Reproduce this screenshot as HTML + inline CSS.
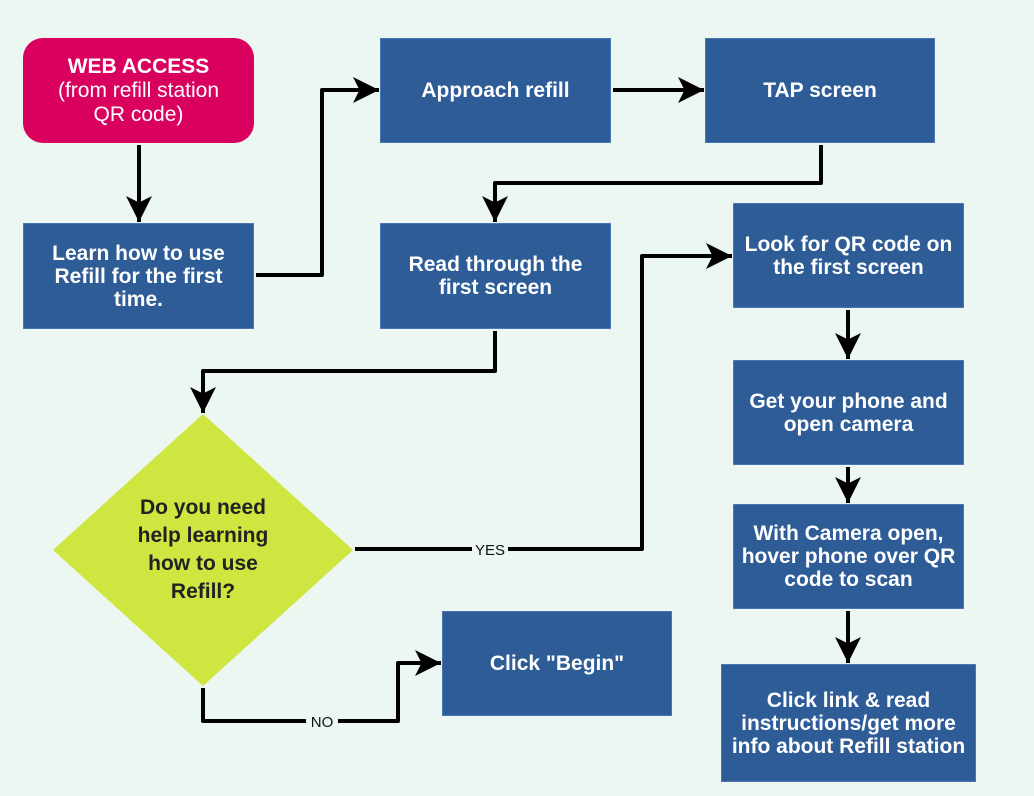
<!DOCTYPE html>
<html><head><meta charset="utf-8"><style>
body{margin:0;width:1034px;height:796px;background:#ebf7f0;position:relative;overflow:hidden;font-family:"Liberation Sans",sans-serif}
.b{position:absolute;background:#2e5c96;color:#fff;font-weight:bold;font-size:21px;line-height:23px;display:flex;align-items:center;justify-content:center;text-align:center;box-sizing:border-box;border:1px solid #4a78b0}
svg{position:absolute;left:0;top:0}
</style></head><body>
<svg width="1034" height="796">
<defs>
<marker id="m" viewBox="0 0 10 10" refX="10" refY="5" markerWidth="26" markerHeight="26" markerUnits="userSpaceOnUse" orient="auto"><path d="M0,0L10,5L0,10L2.5,5z" fill="#000"/></marker></defs>
<polygon points="203,414 353,550 203,686 53,550" fill="#cfe540"/>
<g fill="none" stroke="#000" stroke-width="4" stroke-linejoin="round" marker-end="url(#m)">
<path d="M139,145V222"/>
<path d="M256,275H322V90H379"/>
<path d="M613,90H704"/>
<path d="M821,145V183H495V222"/>
<path d="M495,331V371H203V413"/>
<path d="M355,549H642V256H732"/>
<path d="M848,310V359"/>
<path d="M848,467V503"/>
<path d="M848,611V663"/>
<path d="M203,688V721H398V663H441"/>
</g>
<rect x="472" y="540" width="36" height="18" fill="#ebf7f0"/>
<text x="490" y="555" font-size="15" text-anchor="middle" fill="#111" font-family="Liberation Sans">YES</text>
<rect x="306" y="712" width="32" height="18" fill="#ebf7f0"/>
<text x="322" y="727" font-size="15" text-anchor="middle" fill="#111" font-family="Liberation Sans">NO</text>
<text font-family="Liberation Sans" font-weight="bold" font-size="21" fill="#222" text-anchor="middle"><tspan x="203" y="514">Do you need</tspan><tspan x="203" y="542">help learning</tspan><tspan x="203" y="570">how to use</tspan><tspan x="203" y="598">Refill?</tspan></text>
</svg>
<div class="b" style="left:23px;top:38px;width:231px;height:105px;background:#d9005e;border:none;border-radius:20px;font-weight:normal;line-height:24px"><div><b>WEB ACCESS</b><br>(from refill station<br>QR code)</div></div>
<div class="b" style="left:23px;top:223px;width:231px;height:106px">Learn how to use<br>Refill for the first<br>time.</div>
<div class="b" style="left:380px;top:38px;width:231px;height:105px">Approach refill</div>
<div class="b" style="left:705px;top:38px;width:230px;height:105px">TAP screen</div>
<div class="b" style="left:380px;top:223px;width:231px;height:106px">Read through the<br>first screen</div>
<div class="b" style="left:733px;top:203px;width:231px;height:105px">Look for QR code on<br>the first screen</div>
<div class="b" style="left:733px;top:360px;width:231px;height:105px">Get your phone and<br>open camera</div>
<div class="b" style="left:733px;top:504px;width:231px;height:105px">With Camera open,<br>hover phone over QR<br>code to scan</div>
<div class="b" style="left:442px;top:611px;width:230px;height:105px">Click "Begin"</div>
<div class="b" style="left:721px;top:664px;width:255px;height:118px">Click link &amp; read<br>instructions/get more<br>info about Refill station</div>
</body></html>
